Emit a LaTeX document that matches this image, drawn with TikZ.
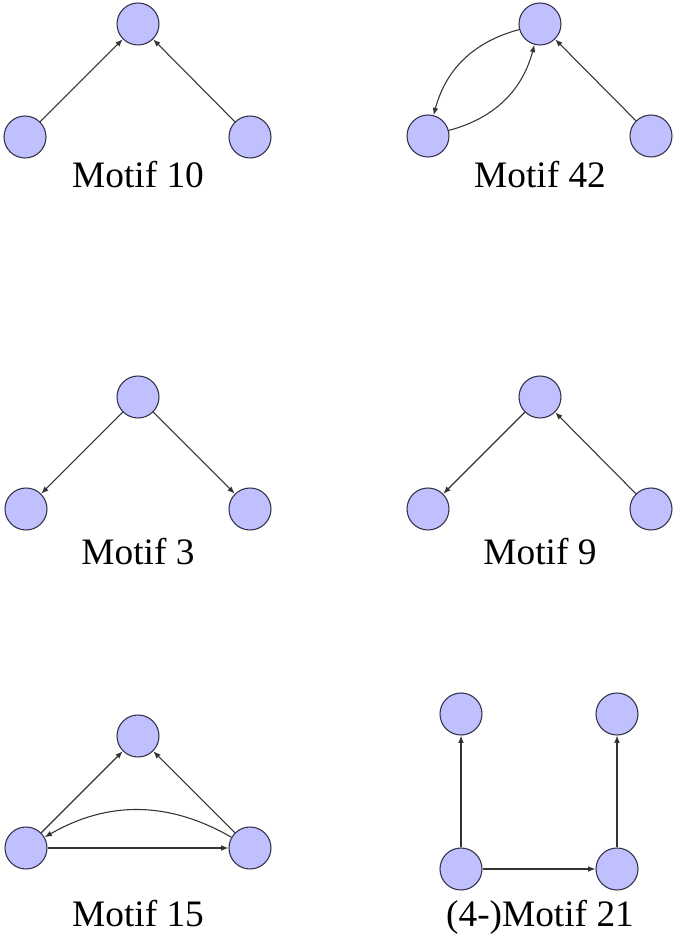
\documentclass[tikz,border=0pt]{standalone}
\usepackage{xcolor}
\usepackage{fontspec}
\setmainfont{Liberation Serif}
\usepackage{tikz}
\usetikzlibrary{arrows.meta}

\definecolor{motiffill}{RGB}{192,192,255}
\definecolor{motifline}{RGB}{50,50,72}

\begin{document}
\begin{tikzpicture}[x=0.75pt, y=0.75pt,
  vertex/.style={circle, draw=motifline, fill=motiffill, line width=0.8pt, minimum size=31.5pt, inner sep=0pt},
  arrow/.style={-{Latex[length=5.5pt,width=4.2pt]}, line width=0.8pt, draw=black!80},
  caption/.style={anchor=base, font=\fontsize{28}{30}\selectfont}
]
  \useasboundingbox (0,0) rectangle (676,942);

  % Motif 10
  \node[vertex] (m10top) at (138, 918) {};
  \node[vertex] (m10left) at (25, 805) {};
  \node[vertex] (m10right) at (250, 805) {};
  \node[caption] (m10cap) at (138, 754) {Motif 10};
  \draw[arrow] (m10left) -- (m10top);
  \draw[arrow] (m10right) -- (m10top);

  % Motif 42
  \node[vertex] (m42top) at (540, 918) {};
  \node[vertex] (m42left) at (428, 806) {};
  \node[vertex] (m42right) at (651, 806) {};
  \node[caption] (m42cap) at (540, 754) {Motif 42};
  \draw[arrow] (m42top) to[bend right=30] (m42left);
  \draw[arrow] (m42left) to[bend right=30] (m42top);
  \draw[arrow] (m42right) -- (m42top);

  % Motif 3
  \node[vertex] (m3top) at (138, 545) {};
  \node[vertex] (m3left) at (26, 433) {};
  \node[vertex] (m3right) at (250, 433) {};
  \node[caption] (m3cap) at (138, 377) {Motif 3};
  \draw[arrow] (m3top) -- (m3left);
  \draw[arrow] (m3top) -- (m3right);

  % Motif 9
  \node[vertex] (m9top) at (540, 545) {};
  \node[vertex] (m9left) at (428, 433) {};
  \node[vertex] (m9right) at (651, 433) {};
  \node[caption] (m9cap) at (540, 377) {Motif 9};
  \draw[arrow] (m9top) -- (m9left);
  \draw[arrow] (m9right) -- (m9top);

  % Motif 15
  \node[vertex] (m15top) at (138, 206) {};
  \node[vertex] (m15left) at (26, 94) {};
  \node[vertex] (m15right) at (250, 94) {};
  \node[caption] (m15cap) at (138, 15) {Motif 15};
  \draw[arrow] (m15left) -- (m15top);
  \draw[arrow] (m15right) -- (m15top);
  \draw[arrow] (m15left) -- (m15right);
  \draw[arrow] (m15right) to[bend right=30] (m15left);

  % (4-)Motif 21
  \node[vertex] (m21tl) at (461, 228) {};
  \node[vertex] (m21tr) at (617, 228) {};
  \node[vertex] (m21bl) at (461, 73) {};
  \node[vertex] (m21br) at (617, 73) {};
  \node[caption] (m21cap) at (540, 15) {(4-)Motif 21};
  \draw[arrow] (m21bl) -- (m21tl);
  \draw[arrow] (m21br) -- (m21tr);
  \draw[arrow] (m21bl) -- (m21br);
\end{tikzpicture}
\end{document}
